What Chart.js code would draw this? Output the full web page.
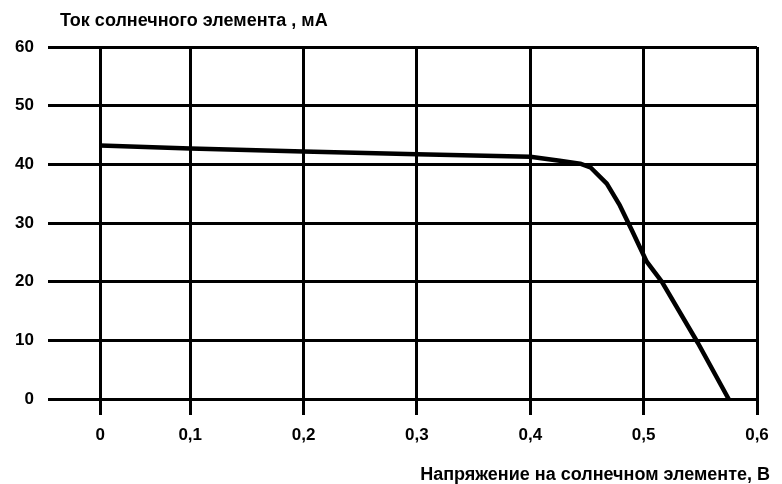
<!DOCTYPE html>
<html>
<head>
<meta charset="utf-8">
<script src="https://cdn.jsdelivr.net/npm/chart.js@4/dist/chart.umd.min.js"></script>
<style>
  html, body { margin: 0; padding: 0; background: #ffffff; }
  #wrap { width: 782px; height: 484px; }
</style>
</head>
<body>
<div id="wrap"><canvas id="c" width="782" height="484"></canvas></div>
<script>
// ---- data ----
const voltage = [0, 0.1, 0.2, 0.3, 0.4, 0.426, 0.444, 0.453, 0.4675, 0.479, 0.4895, 0.5027, 0.516, 0.548, 0.575];
const current = [43.2, 42.7, 42.2, 41.7, 41.3, 40.6, 40.1, 39.5, 36.7, 33.0, 28.8, 23.4, 20.0, 9.5, 0];
const xTickValues = [0, 0.1, 0.2, 0.3, 0.4, 0.5, 0.6];
const xTickLabels = ['0', '0,1', '0,2', '0,3', '0,4', '0,5', '0,6'];
const yTickLabels = ['0', '10', '20', '30', '40', '50', '60'];
const chartTitle = 'Ток солнечного элемента , мА';
const xAxisTitle = 'Напряжение на солнечном элементе, В';

const FONT = "'Liberation Sans', Arial, sans-serif";

// Linear scale whose 0..0.1 interval is drawn narrower than the others,
// as on the original (hand-drawn) chart.
class SqueezedLinearScale extends Chart.LinearScale {
  _warp(v) {
    const p = 0.1, k = 0.794;
    return v >= p ? v : p - (p - v) * k;
  }
  _unwarp(f) {
    const p = 0.1, k = 0.794;
    return f >= p ? f : p - (p - f) / k;
  }
  getPixelForValue(value) {
    if (value === null || value === undefined || isNaN(value)) return NaN;
    const a = this._warp(this.min), b = this._warp(this.max);
    return this.getPixelForDecimal((this._warp(value) - a) / (b - a));
  }
  getValueForPixel(pixel) {
    const a = this._warp(this.min), b = this._warp(this.max);
    return this._unwarp(a + this.getDecimalForPixel(pixel) * (b - a));
  }
}
SqueezedLinearScale.id = 'squeezedLinear';
SqueezedLinearScale.defaults = Chart.LinearScale.defaults;
Chart.register(SqueezedLinearScale);

const titlesPlugin = {
  id: 'titlesPlugin',
  afterDraw(chart) {
    const ctx = chart.ctx;
    ctx.save();
    ctx.fillStyle = '#000';
    ctx.font = 'bold 18px ' + FONT;
    ctx.textBaseline = 'alphabetic';
    ctx.textAlign = 'left';
    ctx.fillText(chartTitle, 60, 26);
    ctx.textAlign = 'right';
    ctx.fillText(xAxisTitle, 770, 480);
    ctx.restore();
  }
};

new Chart(document.getElementById('c'), {
  type: 'line',
  data: {
    datasets: [{
      data: voltage.map((v, i) => ({ x: v, y: current[i] })),
      borderColor: '#000',
      borderWidth: 4.5,
      pointRadius: 0,
      tension: 0,
      fill: false,
      borderJoinStyle: 'round',
      borderCapStyle: 'butt'
    }]
  },
  options: {
    responsive: false,
    animation: false,
    devicePixelRatio: 1,
    layout: { padding: { top: 47, right: 25, left: 0, bottom: 0 } },
    plugins: { legend: { display: false }, tooltip: { enabled: false }, title: { display: false } },
    scales: {
      x: {
        type: 'squeezedLinear',
        min: -0.058,
        max: 0.6,
        afterBuildTicks: (scale) => { scale.ticks = xTickValues.map(v => ({ value: v })); },
        afterFit: (scale) => { scale.height = 85; },
        ticks: {
          autoSkip: false,
          maxRotation: 0,
          color: '#000',
          padding: 10,
          font: { family: FONT, size: 17, weight: 'bold' },
          callback: (val, i) => xTickLabels[i]
        },
        grid: { color: '#000', lineWidth: 3, drawTicks: true, tickLength: 16, tickColor: '#000', tickWidth: 3 },
        border: { display: false }
      },
      y: {
        type: 'linear',
        min: 0,
        max: 60,
        afterFit: (scale) => { scale.width = 48; },
        ticks: {
          stepSize: 10,
          color: '#000',
          padding: 14,
          font: { family: FONT, size: 17, weight: 'bold' },
          callback: (val, i) => yTickLabels[i]
        },
        grid: { color: '#000', lineWidth: 3, drawTicks: false },
        border: { display: false }
      }
    }
  },
  plugins: [titlesPlugin]
});
</script>
</body>
</html>
